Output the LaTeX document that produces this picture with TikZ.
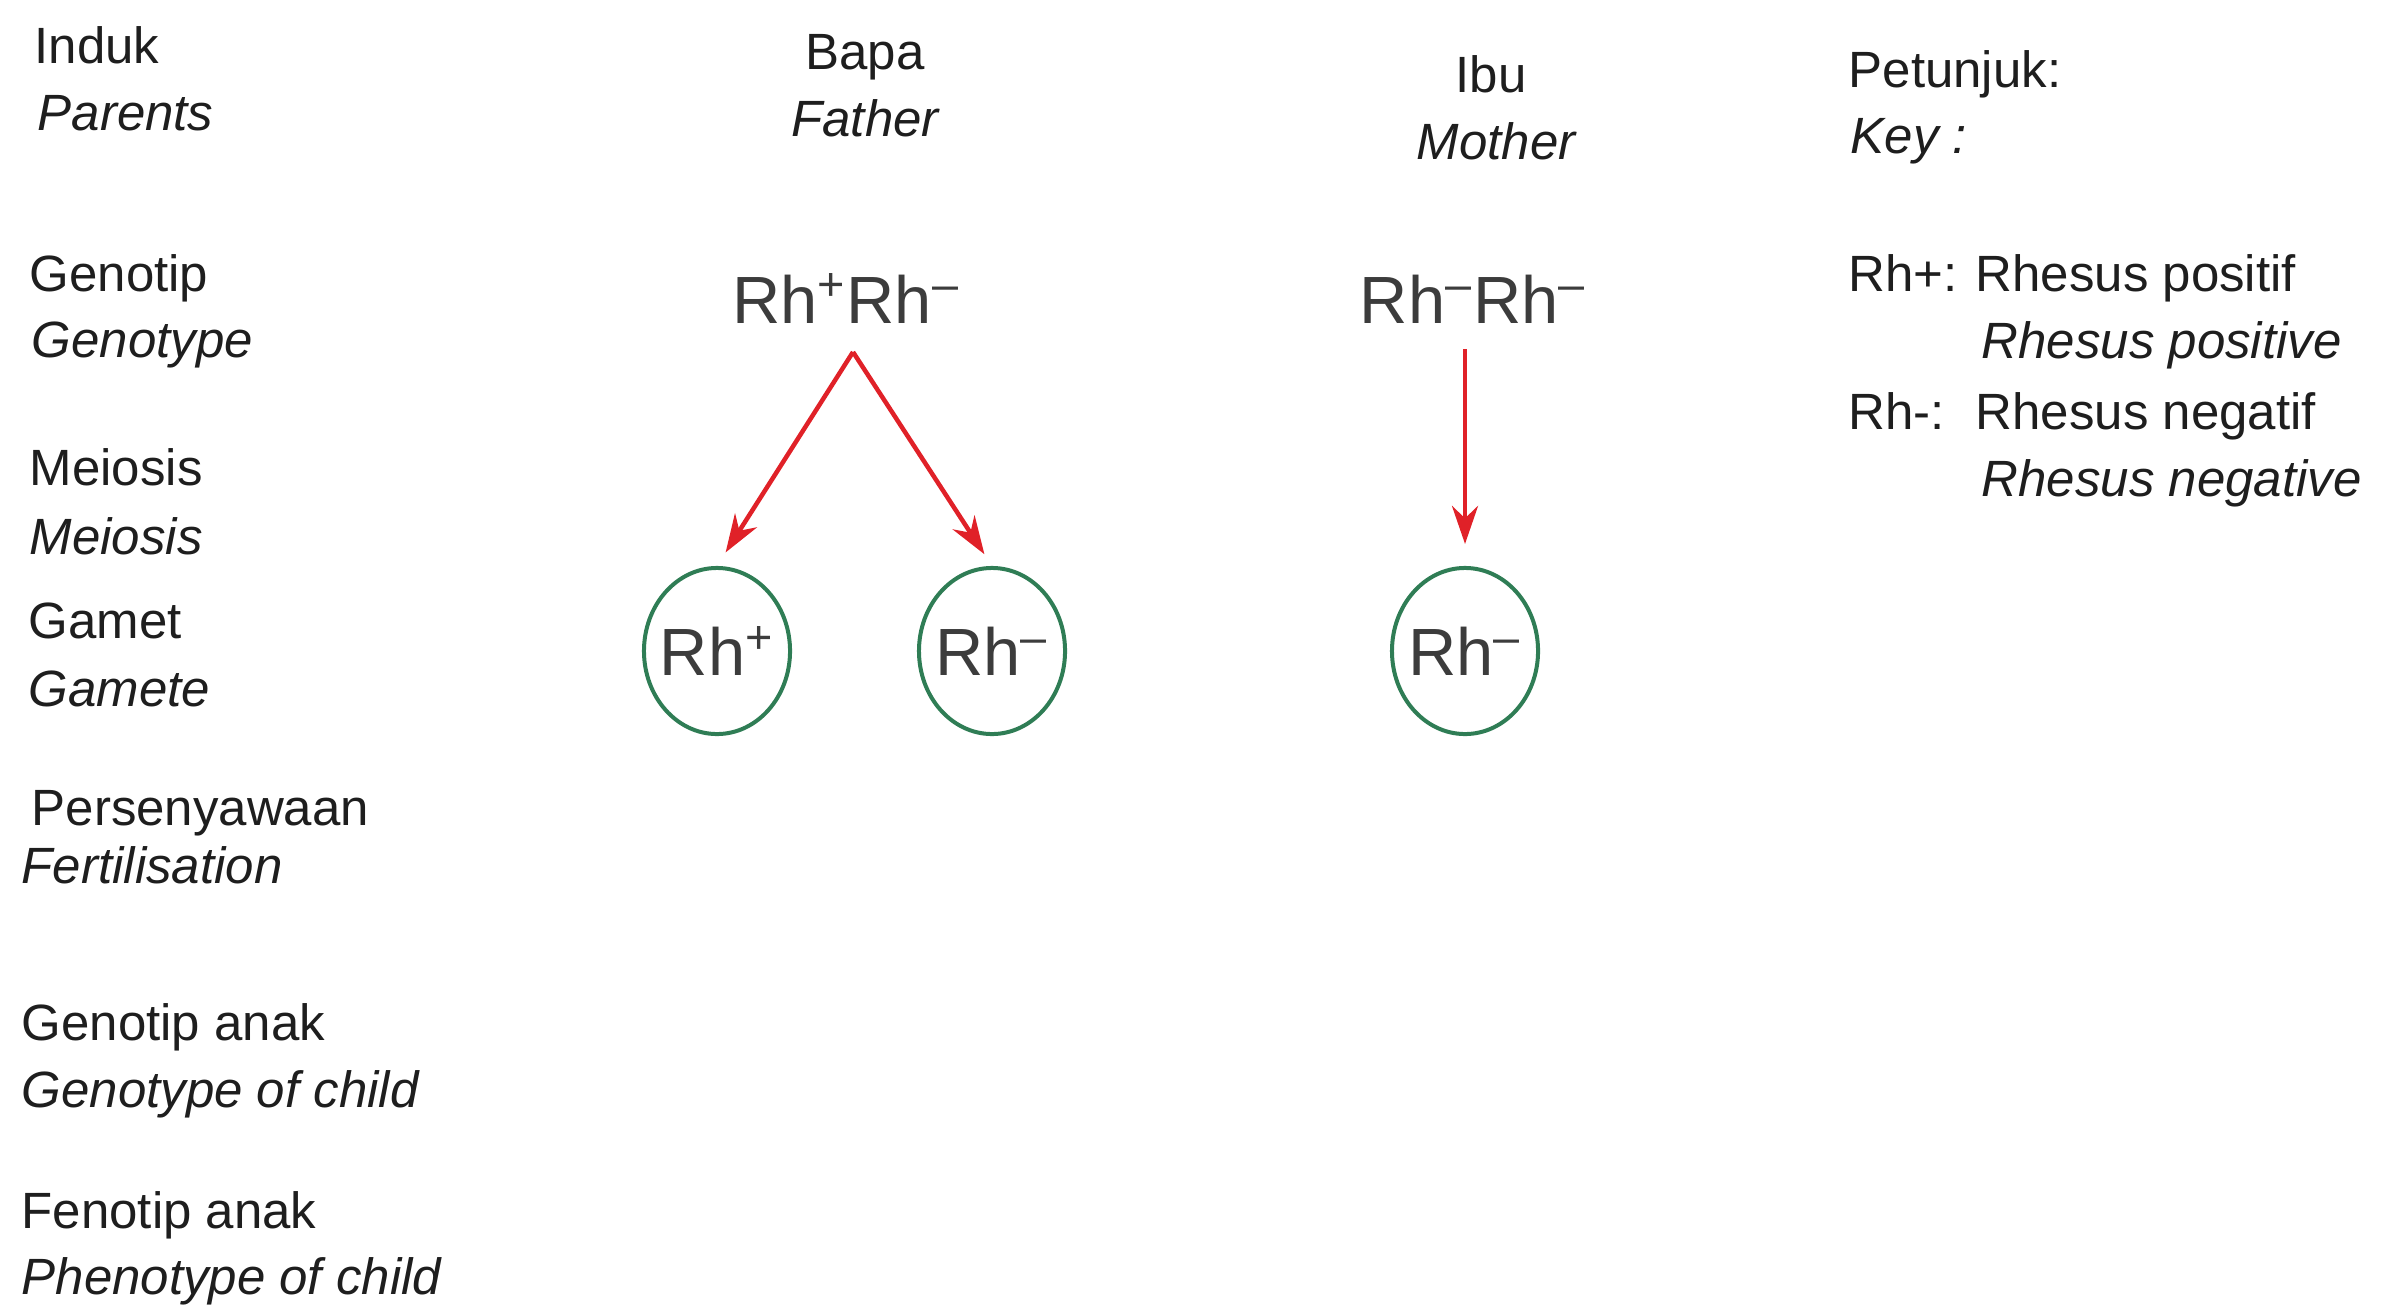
\documentclass[tikz,border=0pt]{standalone}
\usepackage{fontspec}
\setmainfont{Liberation Sans}
\usetikzlibrary{shapes.geometric,arrows.meta}
\definecolor{txt}{HTML}{1E1E1E}
\definecolor{gtxt}{HTML}{3C3C3C}
\definecolor{arr}{HTML}{E02128}
\definecolor{gam}{HTML}{2F7D55}
\tikzset{
  lbl/.style={anchor=base west, inner sep=0pt, text=txt, font=\fontsize{14.5}{17}\selectfont},
  ilbl/.style={lbl, font=\fontsize{14.5}{17}\selectfont\itshape},
  clbl/.style={lbl, anchor=base},
  cilbl/.style={ilbl, anchor=base},
  geno/.style={anchor=base, inner sep=0pt, text=gtxt, font=\fontsize{19}{22}\selectfont},
  gamete/.style={ellipse, draw=gam, line width=0.04cm, minimum width=1.46cm, minimum height=1.66cm, inner xsep=-0.1cm, inner ysep=0pt, text=gtxt, font=\fontsize{19}{22}\selectfont},
  redarrow/.style={draw=arr, line width=0.045cm, -{Stealth[length=0.38cm,width=0.26cm]}}
}
\begin{document}
\begin{tikzpicture}[x=0.01cm,y=-0.01cm]
\useasboundingbox (0,0) rectangle (2401,1309);
% left column
\node[lbl]  (l1a) at (34,64)   {Induk};
\node[ilbl] (l1b) at (37,130)  {Parents};
\node[lbl]  (l2a) at (29,291)  {Genotip};
\node[ilbl] (l2b) at (31,357)  {Genotype};
\node[lbl]  (l3a) at (29,485)  {Meiosis};
\node[ilbl] (l3b) at (29,554)  {Meiosis};
\node[lbl]  (l4a) at (28,638)  {Gamet};
\node[ilbl] (l4b) at (28,706)  {Gamete};
\node[lbl]  (l5a) at (31,825)  {Persenyawaan};
\node[ilbl] (l5b) at (21,883)  {Fertilisation};
\node[lbl]  (l6a) at (21,1040) {Genotip anak};
\node[ilbl] (l6b) at (21,1107) {Genotype of child};
\node[lbl]  (l7a) at (21,1228) {Fenotip anak};
\node[ilbl] (l7b) at (21,1294) {Phenotype of child};
% parents
\node[clbl]  (bapa)   at (865,69)   {Bapa};
\node[cilbl] (father) at (865,136)  {Father};
\node[clbl]  (ibu)    at (1491,92)  {Ibu};
\node[cilbl] (mother) at (1496,159) {Mother};
% key
\node[lbl]  (k0a) at (1848,87)  {Petunjuk:};
\node[ilbl] (k0b) at (1850,153) {Key :};
\node[lbl]  (k1a) at (1848,291) {Rh+:};
\node[lbl]  (k1b) at (1975,291) {Rhesus positif};
\node[ilbl] (k1c) at (1981,358) {Rhesus positive};
\node[lbl]  (k2a) at (1848,429) {Rh-:};
\node[lbl]  (k2b) at (1975,429) {Rhesus negatif};
\node[ilbl] (k2c) at (1981,496) {Rhesus negative};
% genotypes
\node[geno] (fg) at (846,323)  {Rh\textsuperscript{+}Rh\textsuperscript{--}};
\node[geno] (mg) at (1473,323) {Rh\textsuperscript{--}Rh\textsuperscript{--}};
% gametes
\node[gamete] (g1) at (717,651)  {Rh\textsuperscript{+}};
\node[gamete] (g2) at (992,651)  {Rh\textsuperscript{--}};
\node[gamete] (g3) at (1465,651) {Rh\textsuperscript{--}};
% arrows
\coordinate (fs) at (853,352);
\coordinate (ms) at (1465,349);
\draw[redarrow, shorten >=0.16cm] (fs) -- (g1.north);
\draw[redarrow, shorten >=0.14cm] (fs) -- (g2.north);
\draw[redarrow, shorten >=0.22cm] (ms) -- (g3.north);
\end{tikzpicture}
\end{document}
